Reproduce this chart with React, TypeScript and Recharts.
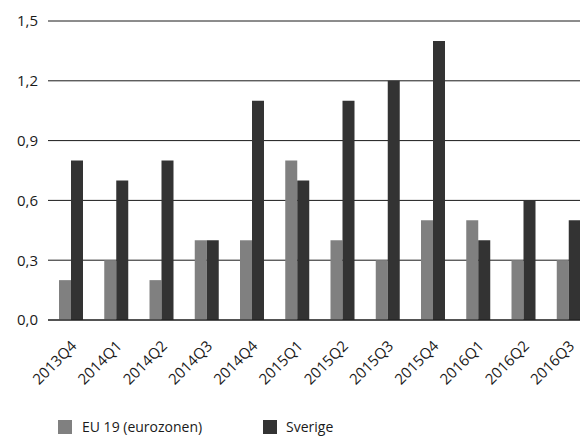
import React from 'react';
import { BarChart, Bar, XAxis, YAxis, CartesianGrid, Legend } from 'recharts';

const quarters = ['2013Q4', '2014Q1', '2014Q2', '2014Q3', '2014Q4', '2015Q1', '2015Q2', '2015Q3', '2015Q4', '2016Q1', '2016Q2', '2016Q3'];
const euValues = [0.2, 0.3, 0.2, 0.4, 0.4, 0.8, 0.4, 0.3, 0.5, 0.5, 0.3, 0.3];
const seValues = [0.8, 0.7, 0.8, 0.4, 1.1, 0.7, 1.1, 1.2, 1.4, 0.4, 0.6, 0.5];
const yTicks = [0, 0.3, 0.6, 0.9, 1.2, 1.5];

const EU_COLOR = '#808080';
const SE_COLOR = '#333333';
const FONT = '"Open Sans", "Noto Sans", sans-serif';

const data = quarters.map((q, i) => ({ name: q, eu: euValues[i], se: seValues[i] }));

const fmt = (v: number) => v.toFixed(1).replace('.', ',');

const QuarterTick = ({ x, y, payload }: any) => (
  <g transform={`translate(${x + 7},${y + 19})`}>
    <text transform="rotate(-45)" textAnchor="end" fontSize={15} fill="#1a1a1a" fontFamily={FONT}>
      {payload.value}
    </text>
  </g>
);

const LegendBox = () => (
  <div style={{ display: 'flex', alignItems: 'center', fontFamily: FONT, fontSize: 14, color: '#1a1a1a', paddingLeft: 58, paddingTop: 17 }}>
    <span style={{ width: 14, height: 14, background: EU_COLOR, display: 'inline-block' }} />
    <span style={{ marginLeft: 10, width: 181 }}>EU 19 (eurozonen)</span>
    <span style={{ width: 14, height: 14, background: SE_COLOR, display: 'inline-block' }} />
    <span style={{ marginLeft: 9 }}>Sverige</span>
  </div>
);

export default function App() {
  return (
    <div style={{ position: 'absolute', left: 0, top: 0, width: 580, height: 436, overflow: 'hidden', background: '#fff' }}>
      <BarChart width={600} height={436} data={data} margin={{ top: 21, right: 9, left: 0, bottom: 0 }} barSize={12} barGap={0}>
        <CartesianGrid vertical={false} stroke="#1a1a1a" />
        <XAxis dataKey="name" interval={0} height={80} tickLine={false} axisLine={{ stroke: '#1a1a1a' }} tick={<QuarterTick />} />
        <YAxis
          width={48}
          domain={[0, 1.5]}
          ticks={yTicks}
          tickFormatter={fmt}
          axisLine={false}
          tickLine={false}
          tickMargin={4}
          tick={{ fill: '#1a1a1a', fontSize: 15, fontFamily: FONT }}
        />
        <Legend verticalAlign="bottom" height={36} content={<LegendBox />} />
        <Bar dataKey="eu" name="EU 19 (eurozonen)" fill={EU_COLOR} isAnimationActive={false} />
        <Bar dataKey="se" name="Sverige" fill={SE_COLOR} isAnimationActive={false} />
      </BarChart>
    </div>
  );
}
